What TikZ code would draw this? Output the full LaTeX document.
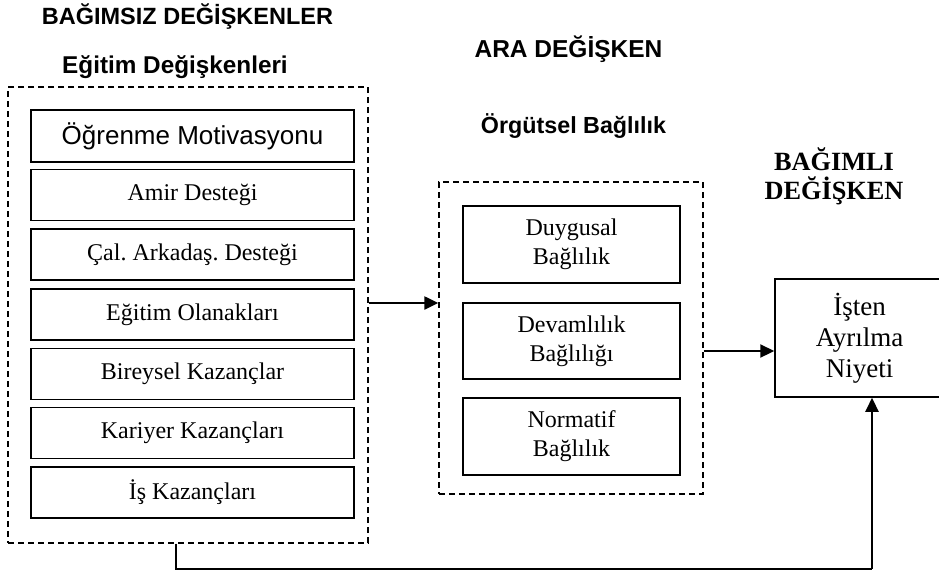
\documentclass[tikz,border=0pt]{standalone}
\usepackage{fontspec}
\setmainfont{Liberation Serif}
\newfontfamily\sansf{Liberation Sans}
\usetikzlibrary{arrows.meta}
\frenchspacing
\tikzset{
  grp/.style={draw, line width=1.3pt, dash pattern=on 6pt off 4pt, inner sep=0pt},
  box/.style={draw, line width=1.5pt, inner sep=0pt, align=center, font=\fontsize{24}{29}\selectfont},
  hdr/.style={anchor=base, font=\sansf\bfseries\fontsize{23.5}{28}\selectfont, inner sep=0pt},
  arr/.style={line width=2.2pt, -{Triangle[length=14pt,width=13pt]}},
  fb/.style={line width=2.2pt}
}
\begin{document}
\frenchspacing
\begin{tikzpicture}[x=1pt,y=-1pt]
\clip (0,0) rectangle (939,571);
\fill[white] (0,0) rectangle (939,571);
% headings
\node[hdr] (h1) at (187.5,24) {BAĞIMSIZ DEĞİŞKENLER};
\node[hdr, font=\sansf\bfseries\fontsize{24.3}{28}\selectfont] (h2) at (175,73) {Eğitim Değişkenleri};
\node[hdr, font=\sansf\bfseries\fontsize{24.5}{28}\selectfont] (h3) at (568.5,57) {ARA DEĞİŞKEN};
\node[hdr, font=\sansf\bfseries\fontsize{23.3}{28}\selectfont] (h4) at (573.5,133) {Örgütsel Bağlılık};
\node[anchor=base, align=center, inner sep=0pt, font=\bfseries\fontsize{26.3}{29}\selectfont] (h5) at (834,170) {BAĞIMLI};
\node[anchor=base, align=center, inner sep=0pt, font=\bfseries\fontsize{26.3}{29}\selectfont] (h6) at (834,199) {DEĞİŞKEN};
% groups
\node[grp, minimum width=360pt, minimum height=456pt] (L) at (188,315) {};
\node[grp, minimum width=264pt, minimum height=312pt] (M) at (571,338) {};
% left boxes
\node[box, minimum width=323pt, minimum height=52pt, font=\sansf\fontsize{26}{30}\selectfont] (b1) at (192.5,136) {Öğrenme Motivasyonu};
\node[box, minimum width=323pt, minimum height=51pt] (b2) at (192.5,195) {Amir Desteği};
\node[box, minimum width=323pt, minimum height=51pt] (b3) at (192.5,254.5) {Çal. Arkadaş. Desteği};
\node[box, minimum width=323pt, minimum height=51pt] (b4) at (192.5,314.5) {Eğitim Olanakları};
\node[box, minimum width=323pt, minimum height=51pt] (b5) at (192.5,374) {Bireysel Kazançlar};
\node[box, minimum width=323pt, minimum height=51pt] (b6) at (192.5,433) {Kariyer Kazançları};
\node[box, minimum width=323pt, minimum height=51pt] (b7) at (192.5,492.5) {İş Kazançları};
% middle boxes
\node[box, minimum width=217pt, minimum height=77pt] (m1) at (571.5,244.5) {Duygusal\\Bağlılık};
\node[box, minimum width=217pt, minimum height=76pt] (m2) at (571.5,341) {Devamlılık\\Bağlılığı};
\node[box, minimum width=217pt, minimum height=77pt] (m3) at (571.5,436.5) {Normatif\\Bağlılık};
% right box
\node[box, minimum width=169pt, minimum height=118pt, font=\fontsize{27}{31}\selectfont] (R) at (859.5,338) {İşten\\Ayrılma\\Niyeti};
% connectors
\coordinate (y1) at (0,303);
\coordinate (y2) at (0,351);
\coordinate (xf) at (176,569);
\coordinate (xr) at (872,569);
\draw[arr] (L.east |- y1) -- (M.west |- y1);
\draw[arr] (M.east |- y2) -- (R.west |- y2);
\draw[fb] (L.south -| xf) -- (xf) -- (xr);
\draw[arr] (xr) -- (R.south -| xr);
\end{tikzpicture}
\end{document}
